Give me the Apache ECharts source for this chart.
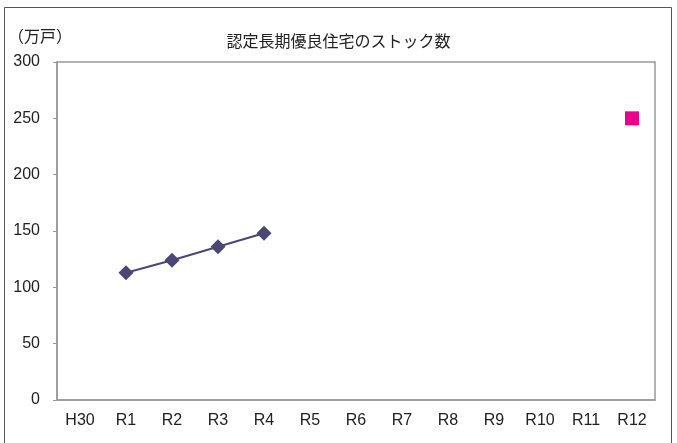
<!DOCTYPE html>
<html><head><meta charset="utf-8">
<script src="https://cdn.jsdelivr.net/npm/echarts@6/dist/echarts.min.js"></script>
<style>html,body{margin:0;padding:0;background:#fff}#c{width:677px;height:443px}</style>
</head><body><div id="c"></div>
<script>
const categories = ['H30','R1','R2','R3','R4','R5','R6','R7','R8','R9','R10','R11','R12'];
const stockValues = [null, 113, 124, 136, 148, null, null, null, null, null, null, null, null];
const targetValues = [null, null, null, null, null, null, null, null, null, null, null, null, 250];
const yTicks = {min: 0, max: 300, interval: 50};
const titleText = '認定長期優良住宅のストック数';
const unitText = '（万戸）';

const font = '"Liberation Sans Narrow", "Liberation Sans", "Noto Sans CJK JP", sans-serif';
const chart = echarts.init(document.getElementById('c'), null, {renderer: 'canvas'});
chart.setOption({
  animation: false,
  backgroundColor: '#fff',
  title: {
    text: titleText, left: 'center', top: 28,
    textStyle: {fontFamily: '"Noto Sans CJK JP", sans-serif', fontSize: 16, fontWeight: 'normal', color: '#222'}
  },
  graphic: [
    {type: 'rect', shape: {x: 4.5, y: 7.5, width: 667, height: 440}, style: {fill: 'none', stroke: '#555', lineWidth: 1}, silent: true},
    {type: 'text', left: 8, top: 28, style: {text: unitText, font: '16px "Noto Sans CJK JP", sans-serif', fill: '#222'}}
  ],
  grid: {left: 57, right: 22, top: 62, bottom: 43, show: true, borderColor: '#999', borderWidth: 1.5},
  xAxis: {
    type: 'category', data: categories, boundaryGap: true,
    axisLine: {lineStyle: {color: '#999', width: 1.5}},
    axisTick: {inside: true, length: 4, lineStyle: {color: '#999'}},
    axisLabel: {color: '#222', fontSize: 16, fontFamily: font, margin: 13}
  },
  yAxis: {
    type: 'value', min: yTicks.min, max: yTicks.max, interval: yTicks.interval,
    axisLine: {show: true, lineStyle: {color: '#999', width: 1.5}},
    axisTick: {show: true, length: 4, lineStyle: {color: '#999'}},
    splitLine: {show: false},
    axisLabel: {color: '#222', fontSize: 16, fontFamily: font, margin: 17}
  },
  series: [
    {type: 'line', data: stockValues, smooth: 0.2, symbol: 'diamond', symbolSize: 15,
     lineStyle: {color: '#4b4774', width: 2}, itemStyle: {color: '#4b4774'}, connectNulls: false},
    {type: 'line', data: targetValues, symbol: 'rect', symbolSize: 14,
     lineStyle: {width: 0}, itemStyle: {color: '#ec008c'}}
  ]
});
</script></body></html>
